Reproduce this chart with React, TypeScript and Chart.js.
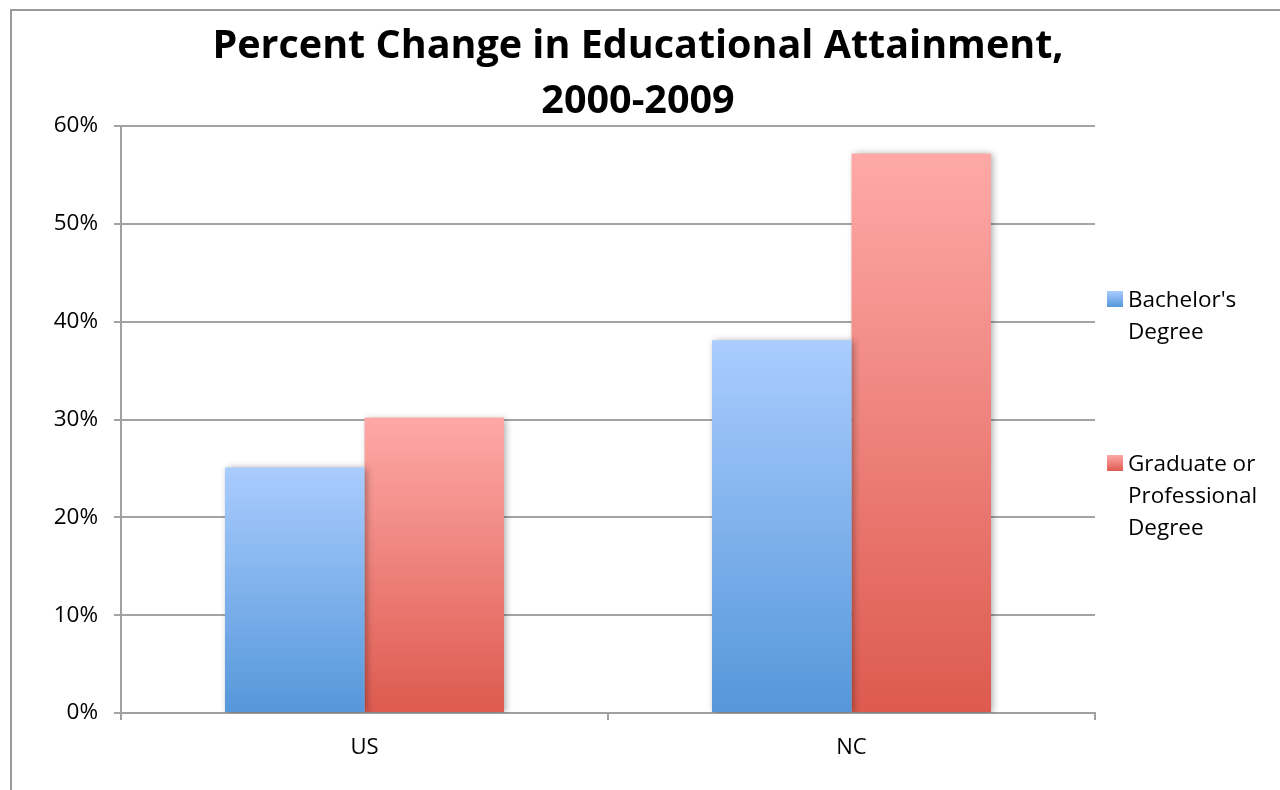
import React, { useEffect, useRef } from "react";
import { Chart, registerables } from "chart.js";

Chart.register(...registerables);

const categories = ["US", "NC"];
const seriesNames = ["Bachelor's Degree", "Graduate or Professional Degree"];
const bachelors = [25.1, 38.1];
const graduate = [30.2, 57.2];
const yTicks = [0, 10, 20, 30, 40, 50, 60];
const titleLines = ["Percent Change in Educational Attainment,", "2000-2009"];
const legendLines = [["Bachelor's", "Degree"], ["Graduate or", "Professional", "Degree"]];
const gradTop = ["#aaccfe", "#fea9a7"];
const gradBottom = ["#5597da", "#dd5a4f"];

const FONT = "'Open Sans', 'Liberation Sans', sans-serif";

export default function App() {
  const ref = useRef<HTMLCanvasElement>(null);

  useEffect(() => {
    const canvas = ref.current;
    if (!canvas) return;

    const barFill = (idx: number) => (ctx: any) => {
      const chart = ctx.chart;
      const area = chart.chartArea;
      const y = chart.scales && chart.scales.y;
      if (!area || !y || ctx.raw == null) return gradBottom[idx];
      const top = y.getPixelForValue(ctx.raw);
      const bottom = y.getPixelForValue(0);
      const g = chart.ctx.createLinearGradient(0, top, 0, bottom);
      g.addColorStop(0, gradTop[idx]);
      g.addColorStop(1, gradBottom[idx]);
      return g;
    };

    const deco = {
      id: "deco",
      beforeDraw(chart: any) {
        const c = chart.ctx;
        c.save();
        c.fillStyle = "#ffffff";
        c.fillRect(0, 0, chart.width, chart.height);
        c.strokeStyle = "#9a9a9a";
        c.lineWidth = 2;
        c.beginPath();
        c.moveTo(11, chart.height + 2);
        c.lineTo(11, 10);
        c.lineTo(chart.width + 2, 10);
        c.stroke();
        c.restore();
      },
      beforeDatasetsDraw(chart: any) {
        const c = chart.ctx;
        c.save();
        c.shadowColor = "rgba(0,0,0,0.35)";
        c.shadowBlur = 7;
        c.shadowOffsetX = 2;
        c.shadowOffsetY = 1;
      },
      afterDatasetsDraw(chart: any) {
        chart.ctx.restore();
      },
      afterDraw(chart: any) {
        const c = chart.ctx;
        c.save();
        // title
        c.fillStyle = "#000000";
        c.font = `bold 39.5px ${FONT}`;
        c.textAlign = "center";
        c.textBaseline = "middle";
        c.fillText(titleLines[0], 638, 47);
        c.fillText(titleLines[1], 638, 102);
        // legend
        const squaresY = [291, 455];
        c.font = `22.5px ${FONT}`;
        c.textAlign = "left";
        legendLines.forEach((lines, i) => {
          const sy = squaresY[i];
          const g = c.createLinearGradient(0, sy, 0, sy + 16);
          g.addColorStop(0, gradTop[i]);
          g.addColorStop(1, gradBottom[i]);
          c.fillStyle = g;
          c.fillRect(1107, sy, 16, 16);
          c.fillStyle = "#000000";
          lines.forEach((t, j) => {
            c.fillText(t, 1128, sy + 10 + j * 32);
          });
        });
        c.restore();
      },
    };

    const chart = new Chart(canvas, {
      type: "bar",
      data: {
        labels: categories,
        datasets: [
          {
            label: seriesNames[0],
            data: bachelors,
            backgroundColor: barFill(0),
            borderWidth: 0,
            categoryPercentage: 0.573,
            barPercentage: 1,
          },
          {
            label: seriesNames[1],
            data: graduate,
            backgroundColor: barFill(1),
            borderWidth: 0,
            categoryPercentage: 0.573,
            barPercentage: 1,
          },
        ],
      },
      options: {
        responsive: false,
        animation: false,
        devicePixelRatio: 1,
        layout: { padding: { left: 0, top: 126, right: 185, bottom: 0 } },
        plugins: {
          legend: { display: false },
          title: { display: false },
          tooltip: { enabled: false },
        },
        scales: {
          x: {
            grid: {
              display: true,
              drawOnChartArea: false,
              drawTicks: true,
              tickLength: 7,
              color: "#a0a0a0",
              lineWidth: 2,
              offset: true,
            },
            border: { display: true, color: "#a0a0a0", width: 2 },
            ticks: {
              color: "#000000",
              font: { family: FONT, size: 22 },
              padding: 15,
            },
            afterFit: (scale: any) => {
              scale.height = 77;
            },
          },
          y: {
            min: 0,
            max: 60,
            afterBuildTicks: (scale: any) => {
              scale.ticks = yTicks.map((v) => ({ value: v }));
            },
            grid: {
              color: "#a4a4a4",
              lineWidth: 2,
              drawTicks: true,
              tickLength: 7,
            },
            border: { display: true, color: "#a0a0a0", width: 2 },
            ticks: {
              color: "#000000",
              font: { family: FONT, size: 22.5 },
              padding: 16,
              callback: (v: any) => `${v}%`,
            },
            afterFit: (scale: any) => {
              scale.width = 121;
            },
          },
        },
      },
      plugins: [deco],
    });

    return () => chart.destroy();
  }, []);

  return (
    <div style={{ position: "fixed", left: 0, top: 0, width: 1280, height: 790, background: "#fff" }}>
      <canvas ref={ref} width={1280} height={790} style={{ width: 1280, height: 790, display: "block" }} />
    </div>
  );
}
